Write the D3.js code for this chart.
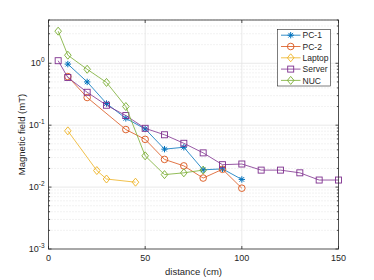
<!DOCTYPE html>
<html>
<head>
<meta charset="utf-8">
<script src="https://d3js.org/d3.v7.min.js"></script>
<style>
    body { margin: 0; background: #fff; font-family: "Liberation Sans", Arial, sans-serif; }
    svg text { fill: #262626; }
</style>
</head>
<body>
<script>
// series data (distance in cm, field in mT)
var pc1X = [10, 20, 30, 40, 50, 60, 70, 80, 90, 100];
var pc1Y = [0.97, 0.5, 0.224, 0.129, 0.087, 0.041, 0.044, 0.019, 0.0197, 0.0133];
var pc2X = [10, 20, 40, 50, 60, 70, 80, 90, 100];
var pc2Y = [0.61, 0.28, 0.085, 0.059, 0.028, 0.022, 0.014, 0.0194, 0.0096];
var laptopX = [10, 25, 30, 45];
var laptopY = [0.081, 0.0185, 0.0135, 0.012];
var serverX = [5, 10, 20, 30, 40, 50, 60, 70, 80, 90, 100, 110, 120, 130, 140, 150];
var serverY = [1.1, 0.59, 0.34, 0.21, 0.143, 0.089, 0.07, 0.051, 0.0357, 0.023, 0.0236, 0.0188, 0.0188, 0.017, 0.013, 0.013];
var nucX = [5, 10, 20, 30, 40, 50, 60, 70, 80];
var nucY = [3.3, 1.35, 0.8, 0.49, 0.2, 0.032, 0.0159, 0.017, 0.0188];

var names = ["PC-1", "PC-2", "Laptop", "Server", "NUC"];
var colors = ["#0072BD", "#D95319", "#EDB120", "#7E2F8E", "#77AC30"];
var symbols = ["star", "circle", "diamond", "square", "diamond"];
var xTicks = [0, 50, 100, 150];
var yTicks = [1e-3, 1e-2, 1e-1, 1];

var series = [
    {x: pc1X, y: pc1Y}, {x: pc2X, y: pc2Y}, {x: laptopX, y: laptopY},
    {x: serverX, y: serverY}, {x: nucX, y: nucY}
];

var width = 374, height = 280;
var pLeft = 48.5, pRight = 338.5, pTop = 20, pBottom = 249;

var svg = d3.select("body").append("svg")
    .attr("width", width).attr("height", height);

var x = d3.scaleLinear().domain([0, 150]).range([pLeft, pRight]);
var y = d3.scaleLog().domain([1e-3, 5]).range([pBottom, pTop]);

// minor values for the log axis
var minor = [];
[1e-3, 1e-2, 1e-1, 1].forEach(function(d) {
    for (var k = 2; k <= 9; k++) if (d * k <= 5) minor.push(d * k);
});

var grid = svg.append("g");
grid.selectAll(".mg").data(minor).enter().append("line")
    .attr("x1", pLeft).attr("x2", pRight)
    .attr("y1", function(d) { return y(d); }).attr("y2", function(d) { return y(d); })
    .attr("stroke", "#d4d4d4").attr("stroke-width", 0.6).attr("stroke-dasharray", "1,2");
grid.selectAll(".yg").data(yTicks.slice(1)).enter().append("line")
    .attr("x1", pLeft).attr("x2", pRight)
    .attr("y1", function(d) { return y(d); }).attr("y2", function(d) { return y(d); })
    .attr("stroke", "#e3e3e3").attr("stroke-width", 0.8);
grid.selectAll(".xg").data(xTicks.slice(1, 3)).enter().append("line")
    .attr("y1", pTop).attr("y2", pBottom)
    .attr("x1", function(d) { return x(d); }).attr("x2", function(d) { return x(d); })
    .attr("stroke", "#e3e3e3").attr("stroke-width", 0.8);

// data lines and markers
function drawMarker(g, sym, color, cx, cy) {
    if (sym == "circle") {
        g.append("circle").attr("cx", cx).attr("cy", cy).attr("r", 3.3)
            .attr("fill", "none").attr("stroke", color).attr("stroke-width", 0.9);
    } else if (sym == "square") {
        g.append("rect").attr("x", cx - 3).attr("y", cy - 3).attr("width", 6).attr("height", 6)
            .attr("fill", "none").attr("stroke", color).attr("stroke-width", 0.9);
    } else if (sym == "diamond") {
        g.append("path").attr("d", "M" + cx + "," + (cy - 4) + "L" + (cx + 3.3) + "," + cy +
            "L" + cx + "," + (cy + 4) + "L" + (cx - 3.3) + "," + cy + "Z")
            .attr("fill", "none").attr("stroke", color).attr("stroke-width", 0.9);
    } else {
        var r = 3.2, s = 2.3;
        g.append("path").attr("d", "M" + cx + "," + (cy - r) + "V" + (cy + r) +
            "M" + (cx - s) + "," + (cy - s) + "L" + (cx + s) + "," + (cy + s) +
            "M" + (cx - s) + "," + (cy + s) + "L" + (cx + s) + "," + (cy - s) +
            "M" + (cx - r) + "," + cy + "H" + (cx + r))
            .attr("fill", "none").attr("stroke", color).attr("stroke-width", 1);
    }
}

var line = d3.line().x(function(d) { return x(d[0]); }).y(function(d) { return y(d[1]); });

series.forEach(function(s, i) {
    var pts = s.x.map(function(d, j) { return [d, s.y[j]]; });
    var g = svg.append("g");
    g.append("path").datum(pts).attr("d", line)
        .attr("fill", "none").attr("stroke", colors[i]).attr("stroke-width", 0.8);
    pts.forEach(function(p) { drawMarker(g, symbols[i], colors[i], x(p[0]), y(p[1])); });
});

// box and ticks
svg.append("rect").attr("x", pLeft).attr("y", pTop)
    .attr("width", pRight - pLeft).attr("height", pBottom - pTop)
    .attr("fill", "none").attr("stroke", "#262626").attr("stroke-width", 0.8);

var ticks = svg.append("g").attr("stroke", "#262626").attr("stroke-width", 0.8);
xTicks.forEach(function(d) {
    ticks.append("line").attr("x1", x(d)).attr("x2", x(d)).attr("y1", pBottom).attr("y2", pBottom - 3);
    ticks.append("line").attr("x1", x(d)).attr("x2", x(d)).attr("y1", pTop).attr("y2", pTop + 3);
});
yTicks.forEach(function(d) {
    ticks.append("line").attr("x1", pLeft).attr("x2", pLeft + 3).attr("y1", y(d)).attr("y2", y(d));
    ticks.append("line").attr("x1", pRight).attr("x2", pRight - 3).attr("y1", y(d)).attr("y2", y(d));
});
minor.forEach(function(d) {
    ticks.append("line").attr("x1", pLeft).attr("x2", pLeft + 1.6).attr("y1", y(d)).attr("y2", y(d));
    ticks.append("line").attr("x1", pRight).attr("x2", pRight - 1.6).attr("y1", y(d)).attr("y2", y(d));
});

// tick labels
svg.selectAll(".xl").data(xTicks).enter().append("text")
    .attr("x", function(d) { return x(d); }).attr("y", pBottom + 12)
    .attr("text-anchor", "middle").attr("font-size", 9).text(function(d) { return d; });

yTicks.forEach(function(d) {
    var t = svg.append("text").attr("x", pLeft - 4).attr("y", y(d) + 3)
        .attr("text-anchor", "end").attr("font-size", 9);
    t.append("tspan").text("10");
    t.append("tspan").attr("dy", -4).attr("font-size", 6.5).text(Math.round(Math.log10(d)));
});

svg.append("text").attr("x", (pLeft + pRight) / 2).attr("y", 275)
    .attr("text-anchor", "middle").attr("font-size", 9.5).text("distance (cm)");
svg.append("text").attr("transform", "translate(25," + ((pTop + pBottom) / 2) + ") rotate(-90)")
    .attr("text-anchor", "middle").attr("font-size", 9.5).text("Magnetic field (mT)");

// legend
var lg = svg.append("g");
lg.append("rect").attr("x", 277.5).attr("y", 29.5).attr("width", 53).attr("height", 56.5)
    .attr("fill", "#fff").attr("stroke", "#262626").attr("stroke-width", 0.6);
names.forEach(function(n, i) {
    var ly = 35.2 + i * 11.3;
    lg.append("line").attr("x1", 281).attr("x2", 300.5).attr("y1", ly).attr("y2", ly)
        .attr("stroke", colors[i]).attr("stroke-width", 0.8);
    drawMarker(lg, symbols[i], colors[i], 290.7, ly);
    lg.append("text").attr("x", 302.5).attr("y", ly + 3.2).attr("font-size", 8.5).text(n);
});
</script>
</body>
</html>
